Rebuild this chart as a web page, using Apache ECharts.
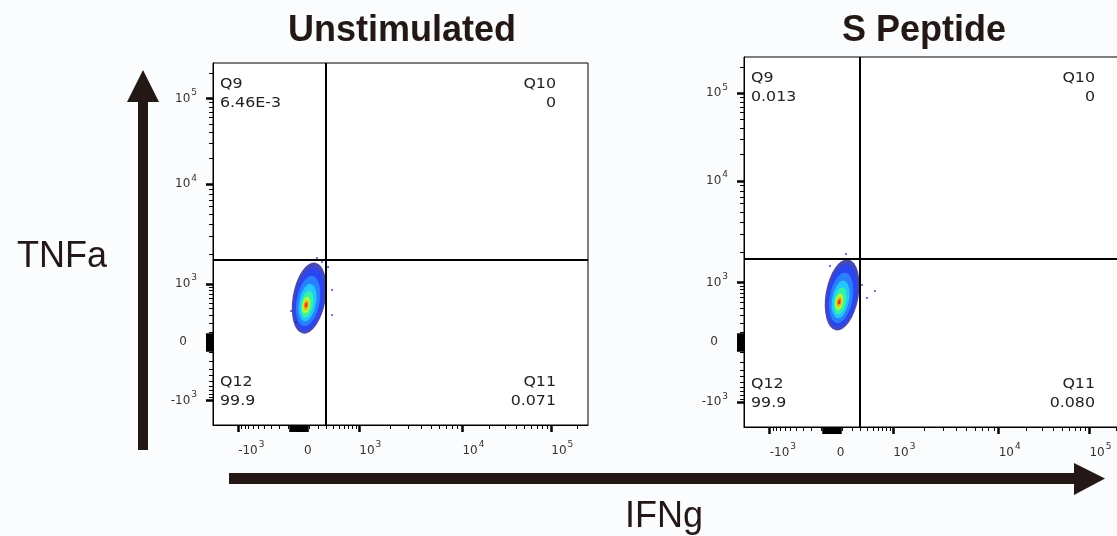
<!DOCTYPE html>
<html>
<head>
<meta charset="utf-8">
<script src="https://cdn.jsdelivr.net/npm/echarts@6.0.0/dist/echarts.min.js"></script>
<style>
  html, body { margin: 0; padding: 0; background: #fbfcfd; }
  #main { width: 1117px; height: 536px; }
</style>
</head>
<body>
<div id="main"></div>
<script>
// --- data ---
const samples = ['Unstimulated', 'S Peptide']
const quadNames = ['Q9', 'Q10', 'Q11', 'Q12']
const quadValues = [
  ['6.46E-3', '0', '0.071', '99.9'],
  ['0.013', '0', '0.080', '99.9']
]
const gateX = [290, 290]     // IFNg quadrant gate
const gateY = [1750, 1750]   // TNFa quadrant gate
// densest point of each population
const coreX = [70, 70]
const coreY = [463, 510]
// stray events around the population
const eventsX = [
  [182, 320, 379, 379, 241, -27, -75],
  [138, 537, 400, 327, 300, -16]
]
const eventsY = [
  [1833, 1488, 807, 305, 1671, 213, 365],
  [1935, 756, 586, 924, 285, 1470]
]
const majorTicks = [-1000, 0, 1000, 10000, 100000]
const tickLabels = ['-10^3', '0', '10^3', '10^4', '10^5']

// --- biexponential display scale (0..1000 display units) ---
const BIEX_C = 300
const scaleValues = [-2500, -1000, 0, 1000, 10000, 100000, 262144]
const scalePos = [0, 67, 229, 390, 665, 902, 1000]
function g(v) { return Math.asinh(v / BIEX_C) }
function biex(v) {
  for (let i = 0; i < scaleValues.length - 1; i++) {
    const a = scaleValues[i], b = scaleValues[i + 1]
    if (v <= b || i === scaleValues.length - 2) {
      const t = (g(v) - g(a)) / (g(b) - g(a))
      return scalePos[i] + t * (scalePos[i + 1] - scalePos[i])
    }
  }
}

// tick sets
const zeroTicks = []
for (let v = -80; v <= 80; v += 10) zeroTicks.push(v)
const minorTicks = []
for (let k = 1; k <= 9; k++) { minorTicks.push(-k * 100); minorTicks.push(k * 100) }
for (let k = 2; k <= 9; k++) { minorTicks.push(k * 1000); minorTicks.push(k * 10000) }
minorTicks.push(200000)

const majorPos = majorTicks.map(biex)
const majorTickPos = majorTicks.concat(zeroTicks).map(biex)
const minorTickPos = minorTicks.map(biex)

const INK = '#231815'
const FONT = 'DejaVu Sans'

const grids = [
  { left: 213, top: 63, width: 375, height: 362 },
  { left: 744, top: 57, width: 383, height: 370 }
]

const densityLayers = [
  { color: '#1c1ca0', size: [33, 72], offset: [3, -7] },
  { color: '#2246ff', size: [29, 64], offset: [3, -6] },
  { color: '#2a8eff', size: [23, 51], offset: [2, -4] },
  { color: '#22d8ff', size: [17, 38], offset: [1.5, -2.5] },
  { color: '#3cff8c', size: [12, 27], offset: [1, -1] },
  { color: '#c8ff2a', size: [8, 17], offset: [0, 0] },
  { color: '#ff9a10', size: [5, 10], offset: [0, 0] },
  { color: '#e8241a', size: [3, 5], offset: [0, 0] }
]

function labelFor(v, zeroStyle) {
  const i = majorPos.findIndex(p => Math.abs(p - v) < 0.5)
  if (i < 0) return ''
  const s = tickLabels[i]
  if (s.indexOf('^') < 0) return '{' + zeroStyle + '|' + s + '}'
  const parts = s.split('^')
  return '{b|' + parts[0] + '}{s|' + parts[1] + '}'
}

function rich(zeroPad) {
  return {
    b: { fontSize: 12, lineHeight: 13, color: '#333', fontFamily: FONT },
    s: { fontSize: 9, lineHeight: 10, padding: [0, 0, 12, 1], color: '#333', fontFamily: FONT },
    z: { fontSize: 12, lineHeight: 13, padding: zeroPad, color: '#333', fontFamily: FONT }
  }
}

const xAxes = [], yAxes = [], series = [], graphics = []

grids.forEach((gr, i) => {
  xAxes.push({
    type: 'value', gridIndex: i, min: 0, max: 1000, position: 'bottom',
    splitLine: { show: false },
    axisLine: { show: true, lineStyle: { color: '#000', width: 1 } },
    axisTick: { show: true, customValues: majorTickPos, length: 7, lineStyle: { color: '#000', width: 2.5 } },
    axisLabel: {
      show: true, customValues: majorPos, margin: 19, align: 'left',
      formatter: v => labelFor(v, 'z'), rich: rich([0, 0, 0, 5])
    }
  })
  xAxes.push({
    type: 'value', gridIndex: i, min: 0, max: 1000, position: 'bottom',
    splitLine: { show: false }, axisLine: { show: false },
    axisTick: { show: true, customValues: minorTickPos, length: 4, lineStyle: { color: '#000', width: 1 } },
    axisLabel: { show: false }
  })
  yAxes.push({
    type: 'value', gridIndex: i, min: 0, max: 1000, position: 'left',
    splitLine: { show: false },
    axisLine: { show: true, lineStyle: { color: '#000', width: 1 } },
    axisTick: { show: true, customValues: majorTickPos, length: 7, lineStyle: { color: '#000', width: 2.5 } },
    axisLabel: {
      show: true, customValues: majorPos, margin: 16,
      formatter: v => labelFor(v, 'z'), rich: rich([0, 10, 0, 0])
    }
  })
  yAxes.push({
    type: 'value', gridIndex: i, min: 0, max: 1000, position: 'left',
    splitLine: { show: false }, axisLine: { show: false },
    axisTick: { show: true, customValues: minorTickPos, length: 4, lineStyle: { color: '#000', width: 1 } },
    axisLabel: { show: false }
  })

  // population drawn as nested density levels around its core
  series.push({
    type: 'scatter', xAxisIndex: 2 * i, yAxisIndex: 2 * i, silent: true,
    symbol: 'circle', symbolRotate: -10,
    data: densityLayers.map(l => ({
      value: [biex(coreX[i]), biex(coreY[i])],
      symbolSize: l.size, symbolOffset: l.offset,
      itemStyle: { color: l.color }
    }))
  })

  // stray events + quadrant gates
  series.push({
    type: 'scatter', xAxisIndex: 2 * i, yAxisIndex: 2 * i, silent: true,
    symbolSize: 2, itemStyle: { color: '#1c1ca0' },
    data: eventsX[i].map((x, k) => [biex(x), biex(eventsY[i][k])]),
    markLine: {
      silent: true, symbol: 'none', animation: false,
      label: { show: false },
      lineStyle: { color: '#000', width: 2, type: 'solid' },
      data: [{ xAxis: biex(gateX[i]) }, { yAxis: biex(gateY[i]) }]
    }
  })

  // quadrant labels
  const qStyle = { font: '14px "DejaVu Sans"', fill: '#222', lineHeight: 19 }
  const L = gr.left, R = gr.left + gr.width, T = gr.top, B = gr.top + gr.height
  const q = quadValues[i]
  const qText = (x, y, text, align) => ({
    type: 'text', x: x, y: y, scaleX: 1.13,
    style: Object.assign({ text: text, textAlign: align, textVerticalAlign: 'top' }, qStyle)
  })
  graphics.push(
    qText(L + 7, T + 12, quadNames[0] + '\n' + q[0], 'left'),
    qText(R - 32, T + 12, quadNames[1] + '\n' + q[1], 'right'),
    qText(R - 32, B - 52, quadNames[2] + '\n' + q[2], 'right'),
    qText(L + 7, B - 52, quadNames[3] + '\n' + q[3], 'left')
  )
})

// titles, channel names and arrows
const titleX = [402, 924]
samples.forEach((s, i) => {
  graphics.push({ type: 'text', x: titleX[i], y: 31, style: { text: s, font: 'bold 36px "Liberation Sans"', fill: INK, textAlign: 'center', textVerticalAlign: 'middle' } })
})
graphics.push(
  { type: 'text', x: 62, y: 257, style: { text: 'TNFa', font: '36px "Liberation Sans"', fill: INK, textAlign: 'center', textVerticalAlign: 'middle' } },
  { type: 'text', x: 664, y: 517, style: { text: 'IFNg', font: '36px "Liberation Sans"', fill: INK, textAlign: 'center', textVerticalAlign: 'middle' } },
  { type: 'rect', shape: { x: 138, y: 100, width: 10, height: 350 }, style: { fill: INK } },
  { type: 'polygon', shape: { points: [[127, 102], [159, 102], [143, 70]] }, style: { fill: INK } },
  { type: 'rect', shape: { x: 229, y: 473, width: 847, height: 11 }, style: { fill: INK } },
  { type: 'polygon', shape: { points: [[1074, 463], [1074, 495], [1105, 478.5]] }, style: { fill: INK } }
)

const chart = echarts.init(document.getElementById('main'))
chart.setOption({
  backgroundColor: '#fbfcfd',
  animation: false,
  grid: grids.map(gr => Object.assign({ show: true, borderColor: '#000', borderWidth: 1, backgroundColor: '#fff', containLabel: false, outerBoundsMode: 'none' }, gr)),
  xAxis: xAxes,
  yAxis: yAxes,
  series: series,
  graphic: graphics
})
</script>
</body>
</html>
